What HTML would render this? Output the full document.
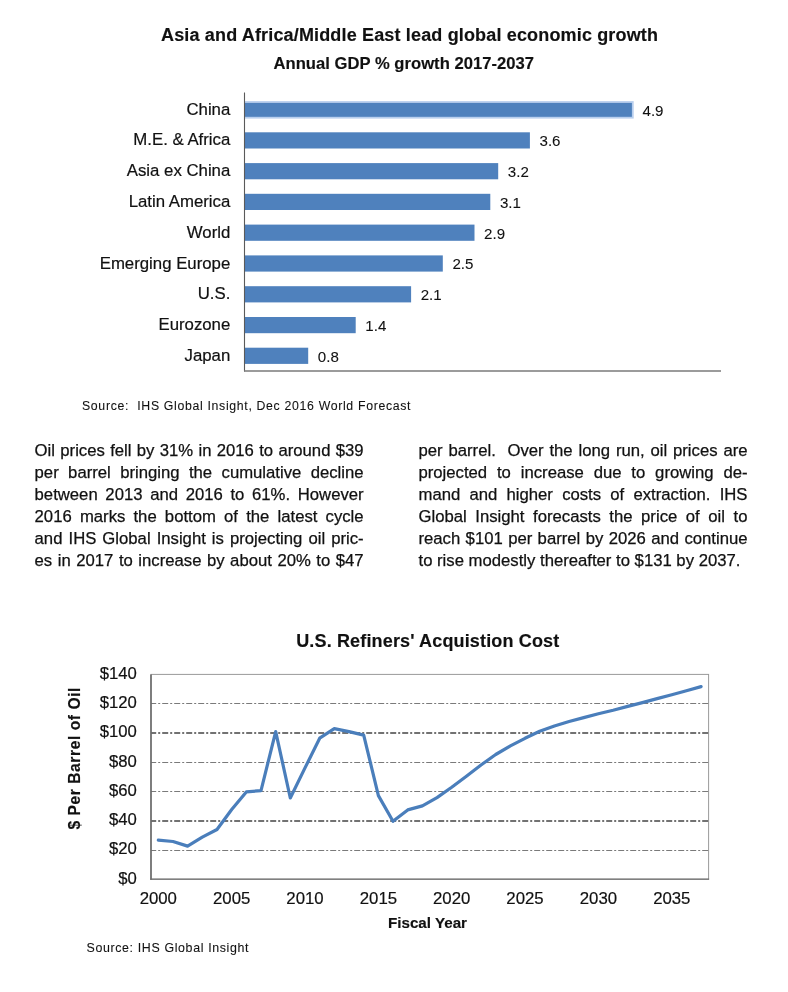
<!DOCTYPE html>
<html lang="en"><head><meta charset="utf-8"><title>Global economic growth and oil prices</title>
<style>
html,body{margin:0;padding:0;background:#fff;}
body{width:788px;height:992px;position:relative;overflow:hidden;font-family:"Liberation Sans",Arial,sans-serif;color:#111;}
svg{position:absolute;left:0;top:0;}
svg text{font-family:"Liberation Sans",Arial,sans-serif;fill:#111;stroke:#111;stroke-width:0.2px;}
svg text.b{stroke-width:0.15px;}
svg text.s{stroke-width:0.08px;}
svg text.v{stroke-width:0.08px;}
.b{font-weight:bold;}
.col{position:absolute;width:329px;font-size:16.7px;line-height:22px;color:#111;-webkit-text-stroke:0.25px #111;}
.col div{text-align:justify;text-align-last:justify;white-space:nowrap;height:22px;}
.col div.last{text-align:left;text-align-last:left;}
</style></head><body>
<svg width="788" height="992" viewBox="0 0 788 992">
<text class="b" x="161" y="41" font-size="18" textLength="497" lengthAdjust="spacing">Asia and Africa/Middle East lead global economic growth</text>
<text class="b" x="273.5" y="68.8" font-size="16.6" textLength="260.5" lengthAdjust="spacing">Annual GDP % growth 2017-2037</text>
<rect x="245.0" y="101.1" width="388.7" height="17.5" fill="#b9cfee"/>
<rect x="245.0" y="102.9" width="386.9" height="13.9" fill="#4f81bd"/>
<text x="230.3" y="114.6" font-size="16.8" text-anchor="end">China</text>
<text class="v" x="642.5" y="115.5" font-size="15.1">4.9</text>
<rect x="245.0" y="132.3" width="284.9" height="16.2" fill="#4f81bd"/>
<text x="230.3" y="145.4" font-size="16.8" text-anchor="end">M.E. &amp; Africa</text>
<text class="v" x="539.5" y="146.3" font-size="15.1">3.6</text>
<rect x="245.0" y="163.1" width="253.2" height="16.2" fill="#4f81bd"/>
<text x="230.3" y="176.2" font-size="16.8" text-anchor="end">Asia ex China</text>
<text class="v" x="507.8" y="177.1" font-size="15.1">3.2</text>
<rect x="245.0" y="193.8" width="245.3" height="16.2" fill="#4f81bd"/>
<text x="230.3" y="206.9" font-size="16.8" text-anchor="end">Latin America</text>
<text class="v" x="499.9" y="207.8" font-size="15.1">3.1</text>
<rect x="245.0" y="224.6" width="229.5" height="16.2" fill="#4f81bd"/>
<text x="230.3" y="237.7" font-size="16.8" text-anchor="end">World</text>
<text class="v" x="484.1" y="238.6" font-size="15.1">2.9</text>
<rect x="245.0" y="255.4" width="197.8" height="16.2" fill="#4f81bd"/>
<text x="230.3" y="268.5" font-size="16.8" text-anchor="end">Emerging Europe</text>
<text class="v" x="452.4" y="269.4" font-size="15.1">2.5</text>
<rect x="245.0" y="286.2" width="166.1" height="16.2" fill="#4f81bd"/>
<text x="230.3" y="299.3" font-size="16.8" text-anchor="end">U.S.</text>
<text class="v" x="420.7" y="300.2" font-size="15.1">2.1</text>
<rect x="245.0" y="317.0" width="110.7" height="16.2" fill="#4f81bd"/>
<text x="230.3" y="330.1" font-size="16.8" text-anchor="end">Eurozone</text>
<text class="v" x="365.3" y="331.0" font-size="15.1">1.4</text>
<rect x="245.0" y="347.7" width="63.2" height="16.2" fill="#4f81bd"/>
<text x="230.3" y="360.8" font-size="16.8" text-anchor="end">Japan</text>
<text class="v" x="317.8" y="361.7" font-size="15.1">0.8</text>
<line x1="244.5" y1="92.5" x2="244.5" y2="371.5" stroke="#5a5a5a" stroke-width="1.1"/>
<line x1="244" y1="370.9" x2="721" y2="370.9" stroke="#7a7a7a" stroke-width="1.5"/>
<text class="s" x="82" y="410" font-size="12.3" textLength="328.5" lengthAdjust="spacing" xml:space="preserve">Source:  IHS Global Insight, Dec 2016 World Forecast</text>
<text class="b" x="296.2" y="646.8" font-size="18" textLength="263" lengthAdjust="spacing">U.S. Refiners' Acquistion Cost</text>
<rect x="151.0" y="674.4" width="557.6" height="204.89999999999998" fill="#fff" stroke="#9a9a9a" stroke-width="1"/>
<line x1="151.0" y1="850.5" x2="708.6" y2="850.5" stroke="#7a7a7a" stroke-width="1" stroke-dasharray="6 2 2 2" stroke-dashoffset="0.8"/>
<line x1="151.0" y1="821.0" x2="708.6" y2="821.0" stroke="#727272" stroke-width="2" stroke-dasharray="6 2 2 2" stroke-dashoffset="0.8"/>
<line x1="151.0" y1="791.5" x2="708.6" y2="791.5" stroke="#7a7a7a" stroke-width="1" stroke-dasharray="6 2 2 2" stroke-dashoffset="0.8"/>
<line x1="151.0" y1="762.5" x2="708.6" y2="762.5" stroke="#7a7a7a" stroke-width="1" stroke-dasharray="6 2 2 2" stroke-dashoffset="0.8"/>
<line x1="151.0" y1="733.0" x2="708.6" y2="733.0" stroke="#727272" stroke-width="2" stroke-dasharray="6 2 2 2" stroke-dashoffset="0.8"/>
<line x1="151.0" y1="703.5" x2="708.6" y2="703.5" stroke="#7a7a7a" stroke-width="1" stroke-dasharray="6 2 2 2" stroke-dashoffset="0.8"/>
<text x="136.9" y="883.7" font-size="16.7" text-anchor="end">$0</text>
<text x="136.9" y="854.4" font-size="16.7" text-anchor="end">$20</text>
<text x="136.9" y="825.2" font-size="16.7" text-anchor="end">$40</text>
<text x="136.9" y="795.9" font-size="16.7" text-anchor="end">$60</text>
<text x="136.9" y="766.6" font-size="16.7" text-anchor="end">$80</text>
<text x="136.9" y="737.3" font-size="16.7" text-anchor="end">$100</text>
<text x="136.9" y="708.1" font-size="16.7" text-anchor="end">$120</text>
<text x="136.9" y="678.8" font-size="16.7" text-anchor="end">$140</text>
<line x1="151.0" y1="674.4" x2="151.0" y2="879.6999999999999" stroke="#6a6a6a" stroke-width="1.6"/>
<line x1="150.2" y1="879.0999999999999" x2="709.1" y2="879.0999999999999" stroke="#707070" stroke-width="1.3"/>
<polyline points="158.3,840.1 173.0,841.5 187.6,846.1 202.3,837.1 217.0,829.5 231.7,809.5 246.3,791.9 261.0,790.6 275.7,731.6 290.3,798.0 305.0,767.9 319.7,738.2 334.3,728.6 349.0,731.6 363.7,735.1 378.4,795.6 393.0,821.3 407.7,809.9 422.4,805.9 437.0,797.6 451.7,787.3 466.4,776.3 481.0,765.0 495.7,754.5 510.4,745.9 525.0,738.3 539.7,731.3 554.4,726.0 569.1,721.5 583.7,717.6 598.4,713.8 613.1,710.3 627.7,706.4 642.4,702.6 657.1,698.6 671.8,694.8 686.4,690.7 701.1,686.6" fill="none" stroke="#4a7ebb" stroke-width="3.2" stroke-linejoin="round" stroke-linecap="round"/>
<text x="158.3" y="903.7" font-size="16.8" text-anchor="middle">2000</text>
<text x="231.7" y="903.7" font-size="16.8" text-anchor="middle">2005</text>
<text x="305.0" y="903.7" font-size="16.8" text-anchor="middle">2010</text>
<text x="378.4" y="903.7" font-size="16.8" text-anchor="middle">2015</text>
<text x="451.7" y="903.7" font-size="16.8" text-anchor="middle">2020</text>
<text x="525.0" y="903.7" font-size="16.8" text-anchor="middle">2025</text>
<text x="598.4" y="903.7" font-size="16.8" text-anchor="middle">2030</text>
<text x="671.8" y="903.7" font-size="16.8" text-anchor="middle">2035</text>
<text class="b" x="388" y="927.5" font-size="15.2" textLength="79" lengthAdjust="spacing">Fiscal Year</text>
<text class="b" transform="translate(80.0,829.6) rotate(-90)" font-size="15.6" textLength="142" lengthAdjust="spacing">$ Per Barrel of Oil</text>
<text class="s" x="86.5" y="951.6" font-size="12.4" textLength="162" lengthAdjust="spacing">Source: IHS Global Insight</text>
</svg><div class="col" style="left:34.6px;top:439.6px"><div>Oil prices fell by 31% in 2016 to around $39</div><div>per barrel bringing the cumulative decline</div><div>between 2013 and 2016 to 61%. However</div><div>2016 marks the bottom of the latest cycle</div><div>and IHS Global Insight is projecting oil pric-</div><div>es in 2017 to increase by about 20% to $47</div></div>
<div class="col" style="left:418.5px;top:439.6px"><div>per barrel.&nbsp; Over the long run, oil prices are</div><div>projected to increase due to growing de-</div><div>mand and higher costs of extraction. IHS</div><div>Global Insight forecasts the price of oil to</div><div>reach $101 per barrel by 2026 and continue</div><div class="last">to rise modestly thereafter to $131 by 2037.</div></div>
</body></html>
